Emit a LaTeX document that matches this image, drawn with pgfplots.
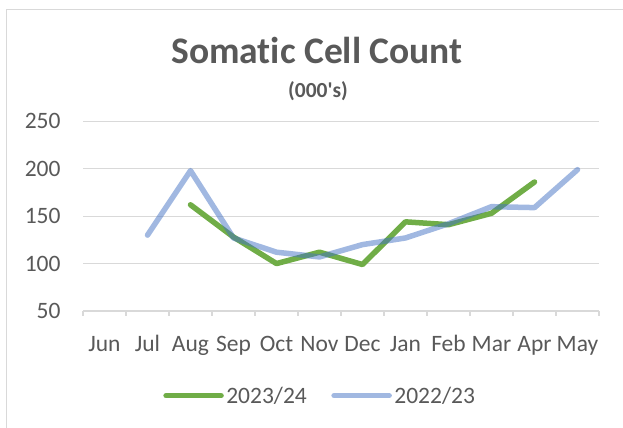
\documentclass[border=0pt]{standalone}
\usepackage{pgfplots}
\pgfplotsset{compat=1.18}
\usepackage{fontspec}
\setmainfont[Ligatures={NoCommon}]{Carlito}
\definecolor{grn}{HTML}{70AD47}
\definecolor{blu}{HTML}{4472C4}
\definecolor{gridc}{HTML}{D9D9D9}
\definecolor{txt}{HTML}{595959}
\begin{document}
\begin{tikzpicture}
\useasboundingbox (0,0) rectangle (623bp,428bp);
\draw[gridc, line width=1.2bp] (6.5bp,0bp) -- (6.5bp,418.5bp) -- (623bp,418.5bp);
\node[anchor=base, text=txt, font=\fontsize{37.5bp}{42bp}\selectfont\bfseries] at (317bp,364.5bp) {Somatic Cell Count};
\node[anchor=base, text=txt, font=\fontsize{21.5bp}{26bp}\selectfont\bfseries] at (318bp,330.5bp) {(000\textquotesingle s)};
\begin{axis}[
  at={(83bp,117bp)}, anchor=south west,
  width=516bp, height=189.7bp, scale only axis,
  xmin=-0.5, xmax=11.5, ymin=50, ymax=250,
  xtick={0,...,11},
  xticklabels={Jun,Jul,Aug,Sep,Oct,Nov,Dec,Jan,Feb,Mar,Apr,May},
  ytick={50,100,...,250},
  minor xtick={-0.5,0.5,...,11.5},
  separate axis lines,
  axis x line*=bottom, axis y line*=left,
  x axis line style={draw=gridc, line width=1.2bp, -},
  y axis line style={draw=none},
  ymajorgrids, grid style={gridc, line width=1.2bp},
  major tick length=0bp, minor tick length=5bp, tick align=outside,
  minor tick style={gridc, line width=1.2bp},
  tick label style={text=txt, font=\fontsize{23.5bp}{28bp}\selectfont},
  /pgf/number format/assume math mode=true,
  xticklabel style={anchor=base, inner sep=0pt, yshift=-40bp},
  yticklabel style={anchor=east, inner sep=0pt, xshift=-22.3bp},
  legend columns=2,
  legend style={at={(0.460,-0.4465)}, anchor=center, draw=none, fill=none,
    text=txt, font=\fontsize{23.5bp}{28bp}\selectfont,
    /tikz/every even column/.append style={column sep=22bp},
    nodes={inner sep=2.5bp}},
  legend image code/.code={\draw[#1] (0bp,0bp) -- (55bp,0bp);},
]
\addplot[grn, line width=5.5bp, line cap=round, line join=round] coordinates {
(2,162) (3,128) (4,100) (5,112) (6,99) (7,144) (8,141) (9,153) (10,186)};
\addlegendentry{2023/24}
\addplot[blu, opacity=0.5, line width=5.5bp, line cap=round, line join=round] coordinates {
(1,130) (2,198) (3,127) (4,112) (5,107) (6,120) (7,127) (8,142) (9,160) (10,159) (11,199)};
\addlegendentry{2022/23}
\end{axis}
\end{tikzpicture}
\end{document}
